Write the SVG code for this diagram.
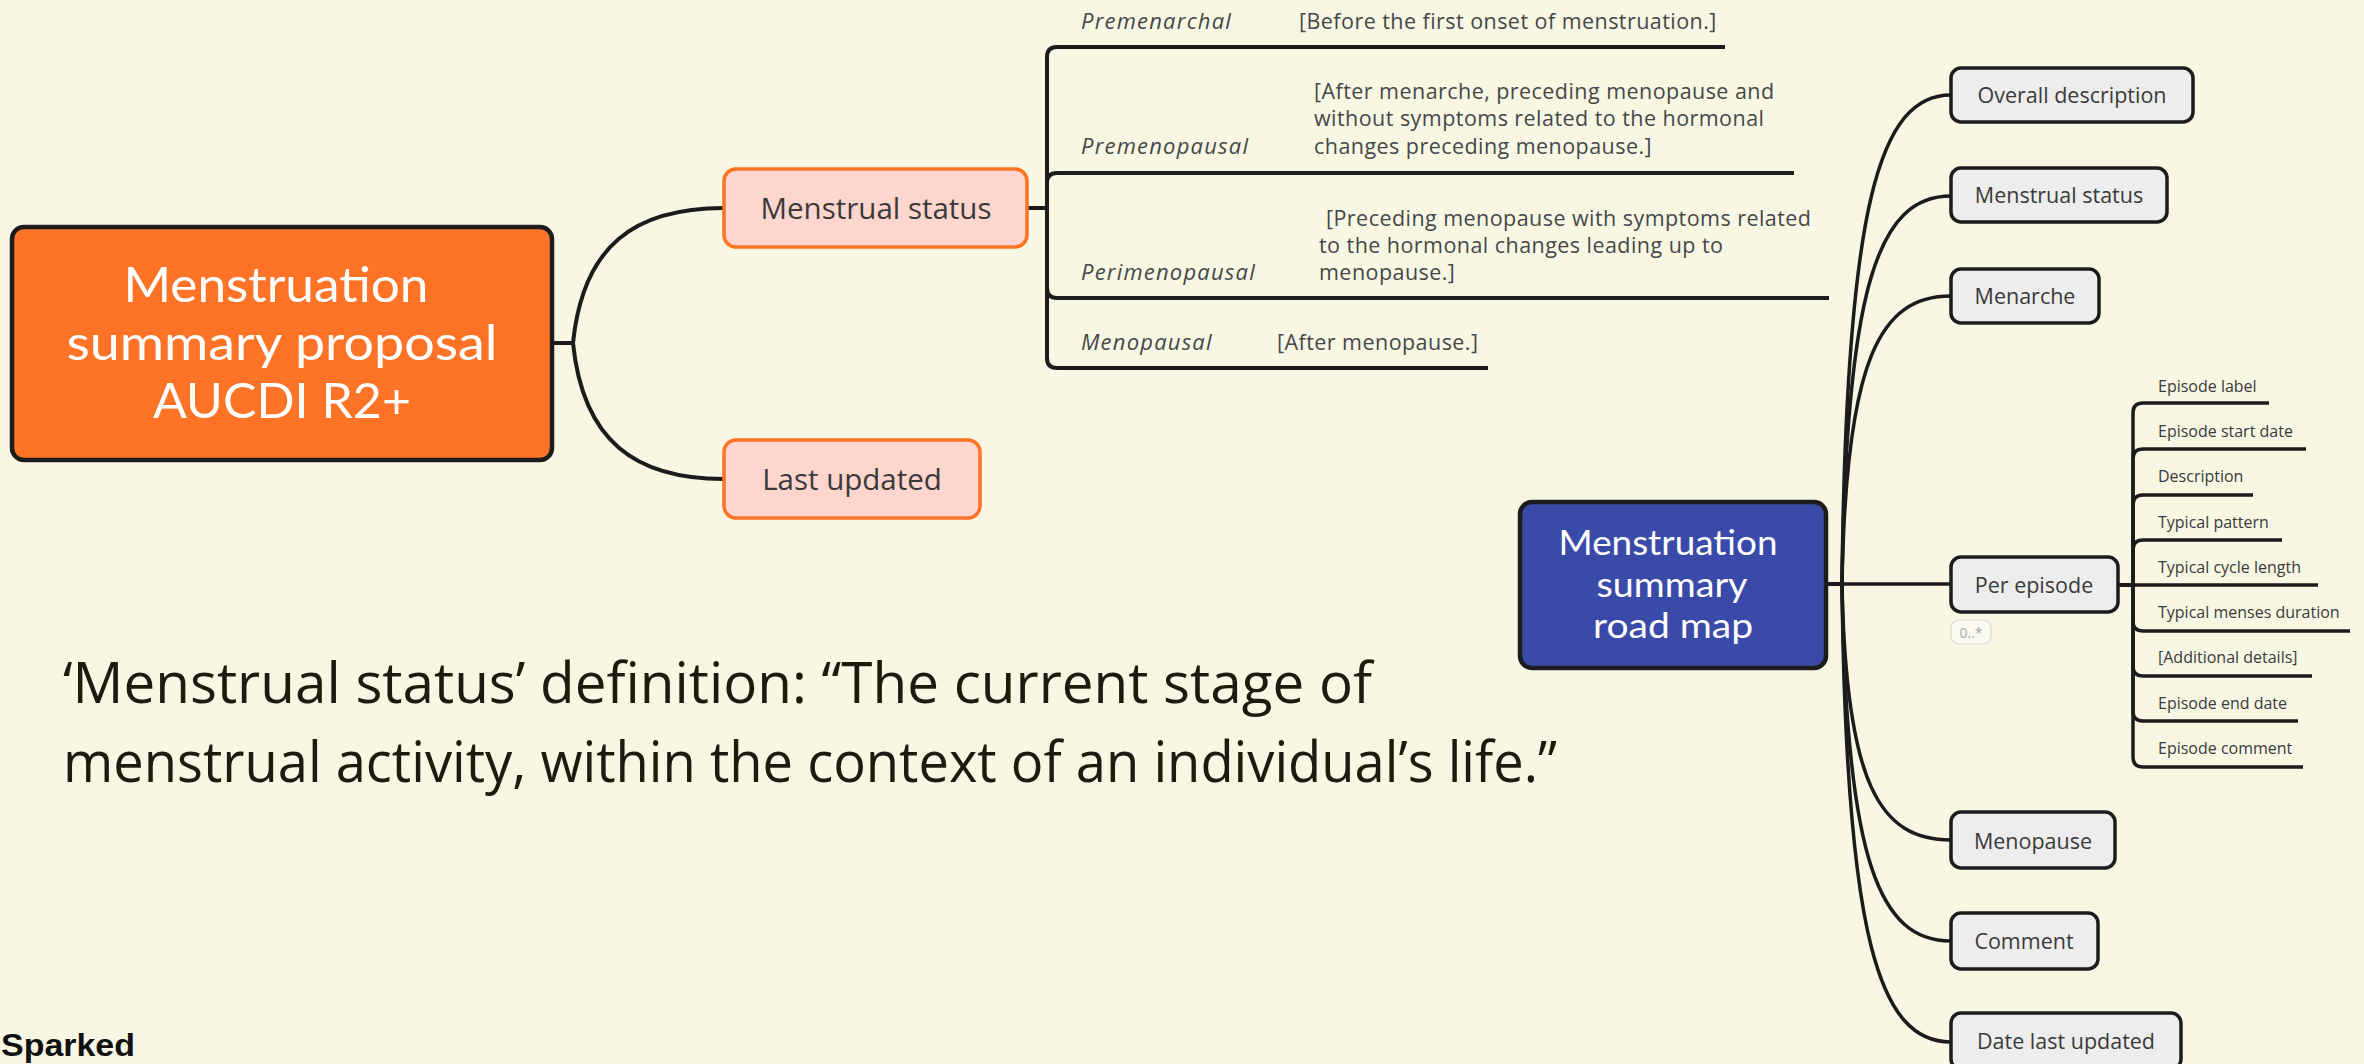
<svg xmlns="http://www.w3.org/2000/svg" width="2364" height="1064" viewBox="0 0 2364 1064">
  <style>
    .edge { fill: none; stroke: #1c1c1c; stroke-width: 4; stroke-linecap: butt; }
    .edge-thin { fill: none; stroke: #1c1c1c; stroke-width: 3.5; }
    .root-orange { fill: #ff7327; stroke: #1c1c1c; stroke-width: 4.5; }
    .root-blue { fill: #3a4aa9; stroke: #1c1c1c; stroke-width: 4.5; }
    .pink { fill: #ffd6cd; stroke: #ff7327; stroke-width: 3.5; }
    .grey { fill: #ededed; stroke: #1c1c1c; stroke-width: 3.5; }
    .root-text { font-family: Lato, "Open Sans", sans-serif; fill: #ffffff; text-anchor: middle; }
    .node-text { font-family: "Open Sans", "Noto Sans", sans-serif; fill: #3a3a3a; text-anchor: middle; }
    .leaf-label { font-family: "Open Sans", "Noto Sans", sans-serif; font-style: italic; font-size: 22px; letter-spacing: 1.2px; fill: #474747; }
    .leaf-note { font-family: "Open Sans", "Noto Sans", sans-serif; font-size: 21.5px; letter-spacing: 0.45px; fill: #474747; }
    .leaf-small { font-family: "Open Sans", "Noto Sans", sans-serif; font-size: 16px; fill: #3a3a3a; }
    .definition { font-family: "Open Sans", "Noto Sans", sans-serif; font-size: 56px; fill: #1e1a0e; }
  </style>

  <!-- canvas -->
  <rect x="0" y="0" width="2364" height="1064" fill="#f8f7e4"/>

  <!-- connectors -->
  <g id="connectors">
    <!-- proposal map -->
    <path class="edge" d="M552 343 H573"/>
    <path class="edge" d="M573 343 C583 245 635 208 724 208"/>
    <path class="edge" d="M573 343 C583 441 635 479 724 479"/>
    <path class="edge" d="M1027 208 H1047"/>
    <path class="edge" d="M1047 208 V57 Q1047 47 1057 47 H1725"/>
    <path class="edge" d="M1047 208 V183 Q1047 173 1057 173 H1794"/>
    <path class="edge" d="M1047 208 V288 Q1047 298 1057 298 H1829"/>
    <path class="edge" d="M1047 208 V358 Q1047 368 1057 368 H1488"/>

    <!-- road map fan -->
    <path class="edge" d="M1826 584 H1842"/>
    <path class="edge-thin" d="M1842 584 C1846 202 1880 95 1951 95"/>
    <path class="edge-thin" d="M1842 584 C1846 281 1880 196 1951 196"/>
    <path class="edge-thin" d="M1842 584 C1846 359 1880 296 1951 296"/>
    <path class="edge-thin" d="M1842 584 H1951"/>
    <path class="edge-thin" d="M1842 584 C1846 785 1880 840 1951 840"/>
    <path class="edge-thin" d="M1842 584 C1846 863 1880 941 1951 941"/>
    <path class="edge-thin" d="M1842 584 C1846 942 1880 1042 1951 1042"/>

    <!-- per-episode bracket -->
    <path class="edge" d="M2118 585 H2133"/>
    <path class="edge-thin" d="M2133 585 V413 Q2133 403 2143 403 H2269"/>
    <path class="edge-thin" d="M2133 585 V459 Q2133 449 2143 449 H2306"/>
    <path class="edge-thin" d="M2133 585 V505 Q2133 495 2143 495 H2253"/>
    <path class="edge-thin" d="M2133 585 V550 Q2133 540 2143 540 H2282"/>
    <path class="edge-thin" d="M2133 585 H2318"/>
    <path class="edge-thin" d="M2133 585 V621 Q2133 631 2143 631 H2350"/>
    <path class="edge-thin" d="M2133 585 V666 Q2133 676 2143 676 H2312"/>
    <path class="edge-thin" d="M2133 585 V711 Q2133 721 2143 721 H2298"/>
    <path class="edge-thin" d="M2133 585 V757 Q2133 767 2143 767 H2303"/>
  </g>

  <!-- proposal map -->
  <g id="proposal-root">
    <rect class="root-orange" x="12" y="227" width="540" height="233" rx="12"/>
    <text class="root-text" font-size="48" x="276" y="302" textLength="305" lengthAdjust="spacingAndGlyphs">Menstruation</text>
    <text class="root-text" font-size="48" x="282" y="360" textLength="431" lengthAdjust="spacingAndGlyphs">summary proposal</text>
    <text class="root-text" font-size="48" x="282" y="418" textLength="258" lengthAdjust="spacingAndGlyphs">AUCDI R2+</text>
  </g>

  <g id="proposal-menstrual-status">
    <rect class="pink" x="724" y="169" width="303" height="78" rx="12"/>
    <text class="node-text" font-size="29.5" x="876" y="219">Menstrual status</text>
  </g>

  <g id="proposal-last-updated">
    <rect class="pink" x="724" y="440" width="256" height="78" rx="12"/>
    <text class="node-text" font-size="29.5" x="852" y="490">Last updated</text>
  </g>

  <g id="status-premenarchal">
    <text class="leaf-label" x="1081" y="29">Premenarchal</text>
    <text class="leaf-note" x="1299" y="29">[Before the first onset of menstruation.]</text>
  </g>

  <g id="status-premenopausal">
    <text class="leaf-label" x="1081" y="154">Premenopausal</text>
    <text class="leaf-note" x="1314" y="99">[After menarche, preceding menopause and</text>
    <text class="leaf-note" x="1314" y="126">without symptoms related to the hormonal</text>
    <text class="leaf-note" x="1314" y="154">changes preceding menopause.]</text>
  </g>

  <g id="status-perimenopausal">
    <text class="leaf-label" x="1081" y="280">Perimenopausal</text>
    <text class="leaf-note" x="1326" y="226">[Preceding menopause with symptoms related</text>
    <text class="leaf-note" x="1319" y="253">to the hormonal changes leading up to</text>
    <text class="leaf-note" x="1319" y="280">menopause.]</text>
  </g>

  <g id="status-menopausal">
    <text class="leaf-label" x="1081" y="350">Menopausal</text>
    <text class="leaf-note" x="1277" y="350">[After menopause.]</text>
  </g>

  <!-- definition note -->
  <g id="definition">
    <text class="definition" x="63" y="703" textLength="1309" lengthAdjust="spacingAndGlyphs">‘Menstrual status’ definition: “The current stage of</text>
    <text class="definition" x="63" y="782" textLength="1494" lengthAdjust="spacingAndGlyphs">menstrual activity, within the context of an individual’s life.”</text>
  </g>

  <g id="footer">
    <text x="1" y="1056" font-family="'Liberation Sans', Arial, sans-serif" font-weight="bold" font-size="32" fill="#111111" textLength="134" lengthAdjust="spacingAndGlyphs">Sparked</text>
  </g>

  <!-- road map -->
  <g id="roadmap-root">
    <rect class="root-blue" x="1520" y="502" width="306" height="166" rx="12"/>
    <text class="root-text" font-size="34.5" x="1668" y="555" textLength="219" lengthAdjust="spacingAndGlyphs">Menstruation</text>
    <text class="root-text" font-size="34.5" x="1672" y="597" textLength="151" lengthAdjust="spacingAndGlyphs">summary</text>
    <text class="root-text" font-size="34.5" x="1673" y="638" textLength="160" lengthAdjust="spacingAndGlyphs">road map</text>
  </g>

  <g id="roadmap-overall-description">
    <rect class="grey" x="1951" y="68" width="242" height="54" rx="10"/>
    <text class="node-text" font-size="21.5" x="2072" y="103">Overall description</text>
  </g>

  <g id="roadmap-menstrual-status">
    <rect class="grey" x="1951" y="168" width="216" height="54" rx="10"/>
    <text class="node-text" font-size="21.5" x="2059" y="203">Menstrual status</text>
  </g>

  <g id="roadmap-menarche">
    <rect class="grey" x="1951" y="269" width="148" height="54" rx="10"/>
    <text class="node-text" font-size="21.5" x="2025" y="304">Menarche</text>
  </g>

  <g id="roadmap-per-episode">
    <rect class="grey" x="1951" y="557" width="167" height="55" rx="10"/>
    <text class="node-text" font-size="21.5" x="2034" y="593">Per episode</text>
    <rect x="1951" y="620" width="40" height="24" rx="8" fill="#fbfaf0" stroke="#d8d8d0" stroke-width="1.2"/>
    <text x="1971" y="638" font-family="'Open Sans', sans-serif" font-size="14" fill="#a8a8a8" text-anchor="middle">0..*</text>
  </g>

  <g id="episode-items">
    <text class="leaf-small" x="2158" y="392">Episode label</text>
    <text class="leaf-small" x="2158" y="437">Episode start date</text>
    <text class="leaf-small" x="2158" y="482">Description</text>
    <text class="leaf-small" x="2158" y="528">Typical pattern</text>
    <text class="leaf-small" x="2158" y="573">Typical cycle length</text>
    <text class="leaf-small" x="2158" y="618">Typical menses duration</text>
    <text class="leaf-small" x="2158" y="663">[Additional details]</text>
    <text class="leaf-small" x="2158" y="709">Episode end date</text>
    <text class="leaf-small" x="2158" y="754">Episode comment</text>
  </g>

  <g id="roadmap-menopause">
    <rect class="grey" x="1951" y="812" width="164" height="56" rx="10"/>
    <text class="node-text" font-size="21.5" x="2033" y="849">Menopause</text>
  </g>

  <g id="roadmap-comment">
    <rect class="grey" x="1951" y="913" width="147" height="56" rx="10"/>
    <text class="node-text" font-size="21.5" x="2024" y="949">Comment</text>
  </g>

  <g id="roadmap-date-last-updated">
    <rect class="grey" x="1951" y="1013" width="230" height="56" rx="10"/>
    <text class="node-text" font-size="21.5" x="2066" y="1049">Date last updated</text>
  </g>
</svg>
